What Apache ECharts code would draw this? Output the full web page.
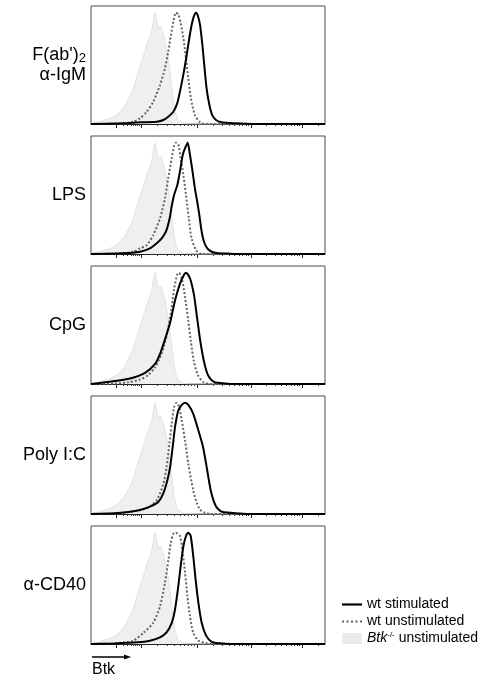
<!DOCTYPE html>
<html>
<head>
<meta charset="utf-8">
<title>Btk expression histograms</title>
<script src="https://cdn.jsdelivr.net/npm/echarts@6/dist/echarts.min.js"></script>
<style>html, body { margin: 0; padding: 0; background: #fff; }</style>
</head>
<body>
<div id="main" style="width:488px;height:681px;"></div>
<script>
// x values are display channels (0-1000), y values are % of mode
var panelLabels = ['{a|F(ab\')}{s|2}\n{a|α-IgM}', 'LPS', 'CpG', 'Poly I:C', 'α-CD40'];
var seriesNames = ['wt stimulated', 'wt unstimulated', 'Btk-/- unstimulated'];

// Btk-/- unstimulated (same control in every panel)
var btkKoUnstim = [[0,0.5],[38,2],[81,5],[110,8],[124,11],[140,15],[152,19],[166,25],[181,32],[195,42],[209,52],[218,57],[224,61],[232,66],[238,72],[244,71],[249,77],[255,80],[259,83],[263,88],[266,93],[270,97],[275,100],[279,95],[283,90],[288,86],[292,85],[297,88],[302,86],[307,82],[312,79],[318,73],[323,68],[330,60],[335,52],[340,43],[345,34],[350,25],[355,17],[360,11],[366,6.5],[373,3.5],[380,2],[395,0.8],[409,0.3],[430,0],[1000,0]];

// wt unstimulated, one per panel
var wtUnstim = [
  [[0,0],[100,0.2],[138,0.6],[181,2.1],[209,5.1],[238,11],[266,20],[295,35],[316,50],[330,65],[342,80],[352,92],[363,100],[373,98.5],[383,91],[395,77],[406,59],[416,41],[427,23],[444,8],[466,1.5],[487,0],[1000,0]],
  [[0,0],[100,0.3],[181,2],[209,5],[238,8],[266,17],[295,32],[316,50],[330,68],[345,86],[355,97],[363,100],[373,98.5],[383,86],[395,71],[406,53],[418,32],[430,14],[449,3.6],[473,0],[1000,0]],
  [[0,0],[100,0.4],[160,1.5],[209,4],[244,8],[274,15],[303,28],[325,45],[342,65],[355,85],[368,98],[376,100],[389,94],[402,78],[415,58],[427,38],[440,20],[457,8],[479,2],[509,0],[1000,0]],
  [[0,0],[100,0.4],[170,2],[238,5],[281,12.5],[309,27],[323,42],[335,63],[345,81],[355,96],[366,100],[377,96],[388,84],[402,66],[416,45],[437,21],[452,10],[466,4],[487,1],[516,0],[1000,0]],
  [[0,0],[100,0.5],[140,1.5],[181,3],[224,10],[266,19],[295,34],[316,55],[331,76],[341,91],[352,99],[360,100],[380,97],[392,82],[402,64],[412,43],[423,25],[437,10],[459,3],[495,0.6],[520,0],[1000,0]]
];

// wt stimulated, one per panel
var wtStim = [
  [[0,0],[138,0.6],[209,1.5],[281,2.1],[309,3.6],[330,6.6],[352,11],[369,19],[383,32],[397,47],[409,62],[420,77],[430,89],[440,97],[449,100],[457,97],[466,89],[476,71],[484,53],[494,32],[506,17],[518,8],[534,3.6],[558,1.5],[594,0.9],[665,0.3],[720,0],[1000,0]],
  [[0,0],[138,0.6],[209,2.1],[252,5.1],[281,9.6],[302,14],[320,20],[335,31],[345,43],[355,53],[369,62],[380,74],[392,89],[402,95],[413,100],[423,89],[434,74],[444,59],[454,47],[463,35],[473,20],[483,11],[497,5],[516,2],[537,0.9],[594,0.3],[640,0],[1000,0]],
  [[0,0],[38,1],[81,2],[167,5],[231,10],[274,18],[295,27],[316,40],[338,55],[359,75],[380,90],[397,98],[406,100],[423,95],[440,80],[453,60],[466,40],[483,20],[500,8],[526,2],[573,0.5],[620,0],[1000,0]],
  [[0,0],[100,0.6],[160,1.8],[209,3.6],[252,6.6],[288,11],[309,18.5],[326,30],[338,42],[349,60],[359,78],[373,93],[388,98],[402,100],[416,98],[437,90],[459,75],[479,60],[496,40],[513,20],[534,7],[560,2],[637,0.5],[680,0],[1000,0]],
  [[0,0],[100,0.5],[200,1.5],[252,3],[295,6],[323,10.4],[345,19],[359,31],[373,52],[385,73],[395,88],[406,97],[416,100],[426,97],[437,79],[447,58],[459,37],[473,19],[492,7.5],[516,2],[551,0.6],[600,0],[1000,0]]
];

// axis tick positions in display channels
var majorTicks = [107, 214, 453, 684, 902];
var minorTicks = [138, 155, 170, 181, 189, 198, 205, 285, 327, 357, 380, 399, 415, 429, 441,
                  522, 563, 592, 614, 632, 648, 662, 673, 750, 788, 815, 836, 854, 868, 881, 892, 972];

var myChart = echarts.init(document.getElementById('main'));

var grids = [], xAxes = [], yAxes = [], series = [];
for (var i = 0; i < 5; i++) {
  grids.push({
    left: 91, width: 234, top: 6 + i * 130, height: 118,
    show: true, borderColor: '#4a4a4a', borderWidth: 1
  });
  xAxes.push({
    gridIndex: i, type: 'value', min: 0, max: 1000, position: 'bottom',
    axisLine: { show: true, onZero: false, lineStyle: { color: '#222', width: 1 } },
    axisTick: { show: true, customValues: majorTicks, length: 4, lineStyle: { color: '#222' } },
    axisLabel: { show: false }, splitLine: { show: false }
  });
  xAxes.push({
    gridIndex: i, type: 'value', min: 0, max: 1000, position: 'bottom',
    axisLine: { show: false, onZero: false },
    axisTick: { show: true, customValues: minorTicks, length: 2, lineStyle: { color: '#333' } },
    axisLabel: { show: false }, splitLine: { show: false }
  });
  yAxes.push({
    gridIndex: i, type: 'value', min: 0, max: 106,
    name: panelLabels[i], nameLocation: 'middle', nameRotate: 0, nameGap: 5,
    nameTextStyle: {
      fontFamily: 'Liberation Sans, Arial, sans-serif', fontSize: 18, color: '#000',
      align: 'right', verticalAlign: 'middle', lineHeight: 20,
      rich: {
        a: { fontFamily: 'Liberation Sans, Arial, sans-serif', fontSize: 18, color: '#000', lineHeight: 20 },
        s: { fontFamily: 'Liberation Sans, Arial, sans-serif', fontSize: 13, color: '#000', lineHeight: 6, verticalAlign: 'bottom' }
      }
    },
    axisLine: { show: false }, axisTick: { show: false },
    axisLabel: { show: false }, splitLine: { show: false }
  });

  series.push({
    name: seriesNames[2], type: 'line', xAxisIndex: i * 2, yAxisIndex: i,
    data: btkKoUnstim, showSymbol: false, symbol: 'none', silent: true,
    itemStyle: { color: '#e9e9e9' },
    lineStyle: { color: '#e2e2e2', width: 1 },
    areaStyle: { color: '#efefef', opacity: 1 }
  });
  series.push({
    name: seriesNames[1], type: 'line', xAxisIndex: i * 2, yAxisIndex: i,
    data: wtUnstim[i], smooth: 0.25, showSymbol: false, symbol: 'none', silent: true, clip: false,
    itemStyle: { color: '#666' },
    lineStyle: { color: '#666', width: 2, type: [2, 2] }
  });
  series.push({
    name: seriesNames[0], type: 'line', xAxisIndex: i * 2, yAxisIndex: i,
    data: wtStim[i], smooth: 0.25, showSymbol: false, symbol: 'none', silent: true, clip: false,
    itemStyle: { color: '#000' },
    lineStyle: { color: '#000', width: 2 }
  });
}

var option = {
  animation: false,
  grid: grids,
  xAxis: xAxes,
  yAxis: yAxes,
  legend: {
    orient: 'vertical', left: 342, top: 597, padding: 0,
    itemWidth: 20, itemHeight: 11, itemGap: 2,
    symbolKeepAspect: true,
    data: [
      { name: seriesNames[0], icon: 'path://M0,0h20v2.2h-20z', itemStyle: { color: '#000', borderWidth: 0 } },
      { name: seriesNames[1], icon: 'path://M0,0h2v2h-2zM4.5,0h2v2h-2zM9,0h2v2h-2zM13.5,0h2v2h-2zM18,0h2v2h-2z', itemStyle: { color: '#666', borderWidth: 0 } },
      { name: seriesNames[2], icon: 'rect', itemStyle: { color: '#ebebeb', borderWidth: 0 } }
    ],
    textStyle: {
      fontFamily: 'Liberation Sans, Arial, sans-serif', fontSize: 14, color: '#000', lineHeight: 15,
      rich: {
        i: { fontFamily: 'Liberation Sans, Arial, sans-serif', fontSize: 14, fontStyle: 'italic', color: '#000', lineHeight: 15 },
        p: { fontFamily: 'Liberation Sans, Arial, sans-serif', fontSize: 8, color: '#000', lineHeight: 15, verticalAlign: 'top' },
        t: { fontFamily: 'Liberation Sans, Arial, sans-serif', fontSize: 14, color: '#000', lineHeight: 15 }
      }
    },
    formatter: function (name) {
      if (name === seriesNames[2]) return '{i|Btk}{p|-/-}{t| unstimulated}';
      return name;
    }
  },
  graphic: [
    { type: 'line', shape: { x1: 92, y1: 657, x2: 126, y2: 657 }, style: { stroke: '#000', lineWidth: 1.3 } },
    { type: 'polygon', shape: { points: [[124, 654.5], [131, 657], [124, 659.5]] }, style: { fill: '#000' } },
    { type: 'text', left: 92, top: 662, style: { text: 'Btk', fontFamily: 'Liberation Sans, Arial, sans-serif', fontSize: 16, fill: '#000' } }
  ],
  series: series
};

myChart.setOption(option);
</script>
</body>
</html>
